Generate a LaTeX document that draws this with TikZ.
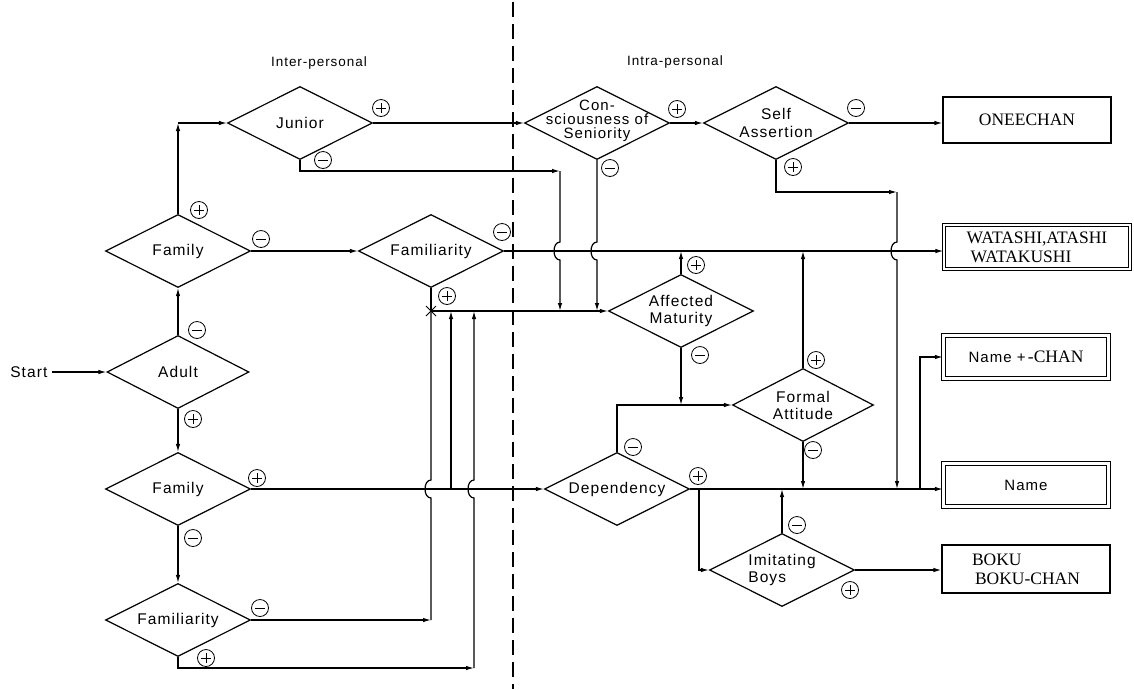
\documentclass[tikz,border=0pt]{standalone}
\usepackage{fontspec}
\setmainfont{Liberation Serif}
\newfontfamily\dfont[LetterSpace=7]{Liberation Sans}
\usetikzlibrary{shapes.geometric,arrows.meta}
\begin{document}
\begin{tikzpicture}[x=1pt,y=-1pt,
  line width=1.2pt,
  >={Latex[length=8pt,width=4.5pt]},
  dia/.style={diamond,draw,minimum width=145pt,minimum height=73pt,inner sep=0pt},
  dtext/.style={font=\dfont\fontsize{15.5}{17}\selectfont,align=center,inner sep=0pt},
  ttext/.style={font=\dfont\fontsize{13.5}{15}\selectfont,inner sep=0pt},
  obox/.style={draw,minimum width=168pt,minimum height=46pt,inner sep=0pt},
  dbox/.style={draw,double,double distance=2.2pt,minimum width=165pt,minimum height=43pt,inner sep=0pt},
  btext/.style={font=\fontsize{17.5}{19}\selectfont,align=left,inner sep=0pt},
  sgn/.style={circle,draw,line width=0.8pt,minimum size=17pt,inner sep=0pt},
  sgnp/.style={sgn,path picture={\draw[line width=0.8pt] ([xshift=-5pt]path picture bounding box.center)--([xshift=5pt]path picture bounding box.center) ([yshift=-5pt]path picture bounding box.center)--([yshift=5pt]path picture bounding box.center);}},
  sgnm/.style={sgn,path picture={\draw[line width=0.8pt] ([xshift=-5pt]path picture bounding box.center)--([xshift=5pt]path picture bounding box.center);}},
]
\useasboundingbox (0,0) rectangle (1134,689);

% divider
\coordinate (dTop) at (513,2);
\coordinate (dBot) at (513,689);
\draw[line width=1.5pt,dash pattern=on 15pt off 7pt] (dTop) -- (dBot);

% titles
\node[ttext] (tInter) at (319,63) {Inter-personal};
\node[ttext] (tIntra) at (675,62) {Intra-personal};

% diamonds
\node[dia] (jun) at (300,123) {};
\node[dtext] (junT) at (jun.center) {Junior};
\node[dia] (fam1) at (178,251) {};
\node[dtext] (fam1T) at (fam1.center) {Family};
\node[dia,minimum width=142pt] (adult) at (178,372) {};
\node[dtext] (adultT) at (adult.center) {Adult};
\node[dia] (fam2) at (178,489) {};
\node[dtext] (fam2T) at (fam2.center) {Family};
\node[dia] (fml2) at (178,620) {};
\node[dtext] (fml2T) at (fml2.center) {Familiarity};
\node[dia] (fml1) at (431,251) {};
\node[dtext] (fml1T) at (fml1.center) {Familiarity};
\node[dia] (cons) at (597,123) {};
\node[dtext,font=\dfont\fontsize{15}{14}\selectfont] (consT) at (597,121) {Con-\\sciousness of\\Seniority};
\node[dia] (self) at (776,123) {};
\node[dtext,font=\dfont\fontsize{15.5}{18}\selectfont] (selfT) at (self.center) {Self\\Assertion};
\node[dia] (am) at (681,311) {};
\node[dtext,font=\dfont\fontsize{15.5}{17.5}\selectfont] (amT) at (am.center) {Affected\\Maturity};
\node[dia,minimum width=141pt] (fa) at (803,405) {};
\node[dtext,font=\dfont\fontsize{15.5}{17}\selectfont] (faT) at (fa.center) {Formal\\Attitude};
\node[dia] (dep) at (617,489) {};
\node[dtext] (depT) at (dep.center) {Dependency};
\node[dia] (ib) at (782,570) {};
\node[dtext,align=left,font=\dfont\fontsize{15.5}{17.5}\selectfont] (ibT) at (ib.center) {Imitating\\Boys};

% boxes
\node[obox,btext] (onee) at (1027,120) {ONEECHAN};
\node[dbox,btext,minimum width=186pt,minimum height=44pt] (wat) at (1037,247) {WATASHI,ATASHI\\\hspace{4pt}WATAKUSHI};
\node[dbox,btext] (namechan) at (1026,357) {{\dfont\fontsize{15}{17}\selectfont Name + }\hspace{-3pt}-CHAN};
\node[dbox] (name) at (1026,485) {};
\node[dtext,font=\dfont\fontsize{15}{17}\selectfont] (nameT) at (name.center) {Name};
\node[obox,btext,minimum height=48pt] (boku) at (1026,569) {BOKU\\\hspace{3pt}BOKU-CHAN};

% start
\node[dtext,anchor=east,inner xsep=4pt] (start) at (52,372) {Start};
\draw[->] (start.east) -- (adult.west);

% left column
\draw[->] (adult.north) -- (fam1.south);
\draw[->] (adult.south) -- (fam2.north);
\draw[->] (fam2.south) -- (fml2.north);
\coordinate (fj) at (178,123);
\draw[->] (fam1.north) -- (fj);
\draw[->] (fj) -- (jun.west);
\draw[->] (fam1.east) -- (fml1.west);

% top row
\draw[->] (jun.east) -- (cons.west);
\draw[->] (cons.east) -- (self.west);
\draw[->] (self.east) -- (self.east -| onee.west);
\draw[->] (fml1.east) -- (fml1.east -| wat.west);

% junior minus path
\coordinate (jA) at (300,171);
\coordinate (jB) at (560,171);
\coordinate (jC) at (560,311);
\draw[->] (jun.south) -- (jA) -- (jB);
\draw[->] (jB) -- (560,242) .. controls (552,242) and (552,260) .. (560,260) -- (jC);

% consciousness minus path
\coordinate (cC) at (597,311);
\draw[->] (cons.south) -- (597,242) .. controls (589,242) and (589,260) .. (597,260) -- (cC);

% self assertion plus path
\coordinate (sA) at (776,192);
\coordinate (sB) at (897,192);
\coordinate (sC) at (897,489);
\draw[->] (self.south) -- (sA) -- (sB);
\draw[->] (sB) -- (897,242) .. controls (889,242) and (889,260) .. (897,260) -- (sC);

% affected maturity
\coordinate (xJ) at (431,311);
\draw (fml1.south) -- (xJ);
\draw[->] (xJ) -- (am.west);
\draw[->] (am.north) -- (am.north |- fml1.east);
\draw[->] (am.south) -- (am.south |- fa.west);

% formal attitude
\draw[->] (dep.north) |- (fa.west);
\draw[->] (fa.north) -- (fa.north |- fml1.east);
\draw[->] (fa.south) -- (fa.south |- dep.east);

% dependency
\draw[->] (fam2.east) -- (dep.west);
\draw[->] (dep.east) -- (dep.east -| name.west);
\coordinate (db) at (699,489);
\draw[->] (db) |- (ib.west);
\draw[->] (ib.north) -- (ib.north |- dep.east);
\draw[->] (ib.east) -- (ib.east -| boku.west);
\coordinate (nc) at (920,489);
\draw[->] (nc) |- (namechan.west);

% returns from lower familiarity
\coordinate (fA) at (431,620);
\draw[->] (fml2.east) -- (fA);
\draw (fA) -- (431,498) .. controls (423,498) and (423,480) .. (431,480) -- (xJ);
\coordinate (gA) at (178,668);
\coordinate (gB) at (474,668);
\coordinate (gC) at (474,311);
\draw[->] (fml2.south) -- (gA) -- (gB);
\draw[->] (gB) -- (474,498) .. controls (466,498) and (466,480) .. (474,480) -- (gC);
\coordinate (hA) at (451,489);
\coordinate (hB) at (451,311);
\draw[->] (hA) -- (hB);

% cross mark
\draw[line width=0.9pt] ([shift={(-5,-5)}]xJ) -- ([shift={(5,5)}]xJ) ([shift={(-5,5)}]xJ) -- ([shift={(5,-5)}]xJ);

% signs
\node[sgnm] (s1) at (197,330) {};
\node[sgnp] (s2) at (193,419) {};
\node[sgnp] (s3) at (199,210) {};
\node[sgnm] (s4) at (261,239) {};
\node[sgnp] (s5) at (257,478) {};
\node[sgnm] (s6) at (193,538) {};
\node[sgnm] (s7) at (260,608) {};
\node[sgnp] (s8) at (206,658) {};
\node[sgnp] (s9) at (381,108) {};
\node[sgnm] (s10) at (323,160) {};
\node[sgnm] (s11) at (502,232) {};
\node[sgnp] (s12) at (447,296) {};
\node[sgnp] (s13) at (677,109) {};
\node[sgnm] (s14) at (610,168) {};
\node[sgnm] (s15) at (856,108) {};
\node[sgnp] (s16) at (793,167) {};
\node[sgnp] (s17) at (696,265) {};
\node[sgnm] (s18) at (700,355) {};
\node[sgnp] (s19) at (816,360) {};
\node[sgnm] (s20) at (813,450) {};
\node[sgnm] (s21) at (633,447) {};
\node[sgnp] (s22) at (698,476) {};
\node[sgnm] (s23) at (797,525) {};
\node[sgnp] (s24) at (850,590) {};
\end{tikzpicture}
\end{document}
